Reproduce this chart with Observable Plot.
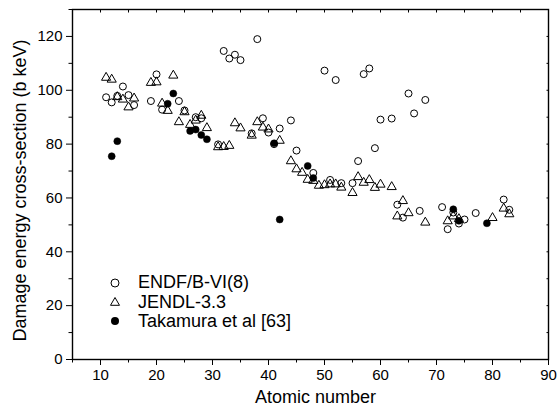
<!DOCTYPE html>
<html>
<head>
<meta charset="utf-8">
<script src="https://cdn.jsdelivr.net/npm/d3@7"></script>
<script src="https://cdn.jsdelivr.net/npm/@observablehq/plot@0.6"></script>
<style>
  body { margin: 0; background: #fff; }
  #wrap { position: relative; width: 558px; height: 414px; font-family: "Liberation Sans", Arial, sans-serif; }
  #legend { position: absolute; left: 106px; top: 273px; font-size: 18px; color: #000; }
  #legend .row { display: flex; align-items: center; height: 19.4px; }
  #legend svg { width: 18px; height: 18px; margin-right: 14px; }
</style>
</head>
<body>
<div id="wrap"></div>
<script>
// ENDF/B-VI(8)
const endfZ = [11,12,13,14,15,16,19,20,21,24,25,27,28,31,32,33,34,35,37,38,39,40,41,42,44,45,48,50,51,52,53,55,56,57,58,59,60,62,63,64,65,66,67,68,71,72,73,74,75,77,82,83];
const endfV = [97.4,95.5,97.9,101.4,98.2,94.5,96.0,105.9,92.8,96.0,92.5,90.0,89.6,79.9,114.6,111.8,113.2,111.2,84.0,119.0,89.6,84.3,80.0,85.8,88.8,77.6,69.3,107.3,66.7,103.8,65.5,65.5,73.7,106.0,108.1,78.5,89.1,89.5,57.5,52.7,98.8,91.4,55.2,96.4,56.6,48.4,54.6,50.5,52.0,54.4,59.4,55.6];
// JENDL-3.3
const jendlZ = [11,12,13,14,15,16,19,20,21,22,23,24,25,26,27,28,29,31,32,33,34,35,37,38,39,40,42,44,45,46,47,48,49,50,51,52,53,55,56,57,58,59,60,62,63,64,65,68,72,73,74,80,82,83];
const jendlV = [104.7,104.0,97.5,96.6,93.7,97.0,102.8,103.0,95.1,92.4,105.5,88.2,91.9,87.2,88.8,90.6,86.0,78.9,79.0,79.4,87.8,85.9,83.2,88.2,86.2,85.5,81.3,73.7,70.7,69.4,66.8,66.4,64.6,64.8,65.1,65.1,63.9,61.9,67.8,65.7,66.7,63.8,65.0,64.1,53.2,58.9,54.4,50.9,51.4,53.2,52.2,52.6,56.1,54.0];
// Takamura et al [63]
const takZ = [12,13,22,23,26,27,28,29,41,42,47,48,73,74,79];
const takV = [75.5,81.1,95.0,98.8,84.9,85.4,83.4,81.8,80.3,52.0,71.9,67.4,55.8,51.5,50.6];

const seriesNames = ["ENDF/B-VI(8)", "JENDL-3.3", "Takamura et al [63]"];
const xMajor = [10,20,30,40,50,60,70,80,90];
const xMinor = [5,15,25,35,45,55,65,75,85];
const yMajor = [0,20,40,60,80,100,120];
const yMinor = [10,30,50,70,90,110,130];
const xTitle = "Atomic number";
const yTitle = "Damage energy cross-section (b keV)";

const endf = endfZ.map((z, i) => ({z, v: endfV[i]}));
const jendl = jendlZ.map((z, i) => ({z, v: jendlV[i]}));
const tak = takZ.map((z, i) => ({z, v: takV[i]}));

const blank = () => "";
const chart = Plot.plot({
  width: 558,
  height: 414,
  marginLeft: 72,
  marginRight: 10,
  marginTop: 9,
  marginBottom: 55,
  style: {fontFamily: "Liberation Sans, Arial, sans-serif", fontSize: "15px", color: "#000", background: "#fff"},
  x: {domain: [5, 90]},
  y: {domain: [0, 130]},
  marks: [
    Plot.axisX({ticks: xMajor, tickSize: 6, tickPadding: 4, label: null, fontSize: 15}),
    Plot.axisX({ticks: xMinor, tickSize: 3.5, tickFormat: blank, label: null}),
    Plot.axisX({anchor: "top", ticks: xMajor.concat(xMinor), tickSize: 2.5, dy: 2.5, tickFormat: blank, label: null}),
    Plot.axisY({ticks: yMajor, tickSize: 6, tickPadding: 4, label: null, fontSize: 15}),
    Plot.axisY({ticks: yMinor, tickSize: 3.5, tickFormat: blank, label: null}),
    Plot.axisY({anchor: "right", ticks: yMajor.concat(yMinor), tickSize: 2.5, dx: -2.5, tickFormat: blank, label: null}),
    Plot.frame({stroke: "#000", strokeWidth: 1.4}),
    Plot.text([xTitle], {frameAnchor: "bottom", textAnchor: "middle", dx: 5, dy: 43, fontSize: 18}),
    Plot.text([yTitle], {frameAnchor: "left", textAnchor: "middle", rotate: -90, dx: -52, dy: 6, fontSize: 18}),
    Plot.dot(jendl, {x: "z", y: "v", symbol: "triangle", r: 3.4, stroke: "#000", fill: "none", strokeWidth: 1}),
    Plot.dot(endf, {x: "z", y: "v", symbol: "circle", r: 3.5, stroke: "#000", fill: "none", strokeWidth: 1}),
    Plot.dot(tak, {x: "z", y: "v", symbol: "circle", r: 3.5, fill: "#000", stroke: "#000", strokeWidth: 0.5})
  ]
});
const wrap = document.getElementById("wrap");
wrap.appendChild(chart);

// Legend
const legend = document.createElement("div");
legend.id = "legend";
const syms = [
  '<circle cx="9" cy="9" r="4" fill="none" stroke="#000" stroke-width="1"/>',
  '<path d="M9,4.5 L13.5,12.3 L4.5,12.3 Z" fill="none" stroke="#000" stroke-width="1"/>',
  '<circle cx="9" cy="9" r="4" fill="#000"/>'
];
seriesNames.forEach((name, i) => {
  const row = document.createElement("div");
  row.className = "row";
  row.innerHTML = `<svg viewBox="0 0 18 18">${syms[i]}</svg><span>${name}</span>`;
  legend.appendChild(row);
});
wrap.appendChild(legend);
</script>
</body>
</html>
